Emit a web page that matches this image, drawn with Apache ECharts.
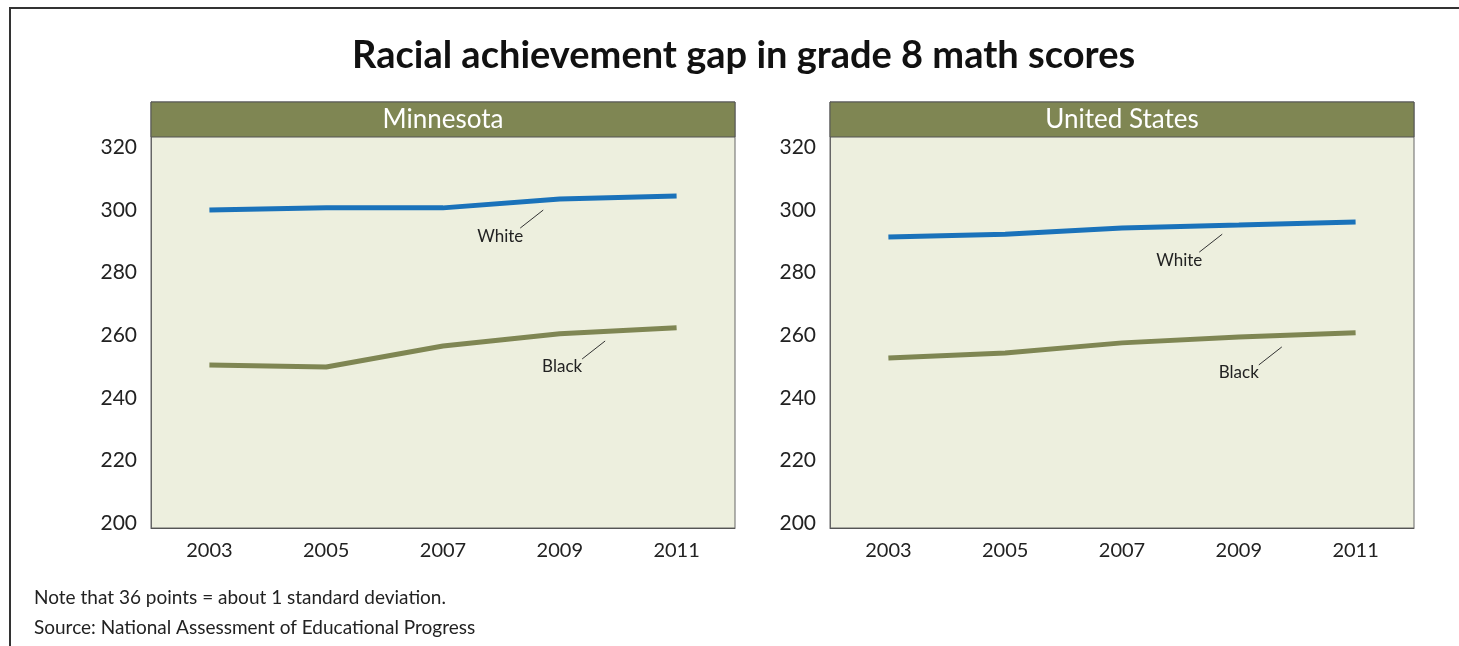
<!DOCTYPE html>
<html>
<head>
<meta charset="utf-8">
<script src="https://cdn.jsdelivr.net/npm/echarts@6/dist/echarts.min.js"></script>
<style>
  html, body { margin: 0; padding: 0; background: #fff; }
  #chart { width: 1459px; height: 646px; }
</style>
</head>
<body>
<div id="chart"></div>
<script>
// data
const years = ['2003', '2005', '2007', '2009', '2011'];
const mnWhite = [300, 300.7, 300.7, 303.5, 304.5];
const mnBlack = [250.5, 249.9, 256.6, 260.5, 262.4];
const usWhite = [291.4, 292.3, 294.3, 295.2, 296.2];
const usBlack = [252.8, 254.4, 257.6, 259.5, 260.8];
const panelNames = ['Minnesota', 'United States'];
// inline series labels: [text, grid index, x (category index), y (value)]
const seriesLabels = [
  ['White', 0, 2.49, 291.7],
  ['Black', 0, 3.02, 249.9],
  ['White', 1, 2.49, 284.0],
  ['Black', 1, 3.00, 248.0]
];

const OLIVE = '#7f8653';
const BLUE = '#1a72ba';
const BG = '#edefde';
const FONT = 'Lato, "Noto Sans", sans-serif';

const chart = echarts.init(document.getElementById('chart'));

const grids = [
  { left: 151, right: 724, top: 102, bottom: 118 },
  { left: 830, right: 45, top: 102, bottom: 118 }
].map(g => Object.assign(g, {
  show: true, backgroundColor: BG, borderColor: '#666', borderWidth: 1
}));

const xAxes = [0, 1].map(i => ({
  type: 'category', gridIndex: i, data: years,
  axisLine: { lineStyle: { color: '#555', width: 1 } },
  axisTick: { inside: true, length: 10, alignWithLabel: true, lineStyle: { color: '#777' } },
  axisLabel: { fontSize: 20, color: '#222', margin: 13, fontFamily: FONT }
}));

const yAxes = [0, 1].map(i => ({
  type: 'value', gridIndex: i, min: 198.5, max: 334.5, splitNumber: 7,
  splitLine: { show: false },
  axisLine: { show: true, lineStyle: { color: '#666' } },
  axisTick: { show: false },
  axisLabel: {
    fontSize: 21, color: '#222', margin: 14, fontFamily: FONT,
    formatter: v => (Math.abs(v % 20) < 1e-6 ? String(v) : '')
  }
}));

function line(data, color, i) {
  return {
    type: 'line', xAxisIndex: i, yAxisIndex: i, data: data,
    symbol: 'none', silent: true,
    lineStyle: { color: color, width: 5, cap: 'butt' }
  };
}

const headers = [];
grids.forEach((g, i) => {
  const x = g.left, w = 1459 - g.left - g.right;
  headers.push({
    type: 'rect', z: 10,
    shape: { x: x, y: g.top, width: w, height: 35 },
    style: { fill: OLIVE, stroke: '#555', lineWidth: 1 }
  });
  headers.push({
    type: 'text', z: 11, x: x + w / 2, y: g.top + 18,
    style: { text: panelNames[i], fill: '#fff', font: '26px ' + FONT, align: 'center', verticalAlign: 'middle' }
  });
});

const frame = {
  type: 'polyline', z: 1,
  shape: { points: [[10, 646], [10, 8], [1459, 8]] },
  style: { stroke: '#333', lineWidth: 2, fill: null }
};

const noteStyle = { fill: '#222', font: '19px ' + FONT };
const notes = [
  { type: 'text', left: 34, top: 588, style: Object.assign({ text: 'Note that 36 points = about 1 standard deviation.' }, noteStyle) },
  { type: 'text', left: 34, top: 618, style: Object.assign({ text: 'Source: National Assessment of Educational Progress' }, noteStyle) }
];

chart.setOption({
  animation: false,
  title: {
    text: 'Racial achievement gap in grade 8 math scores',
    left: 347, top: 32,
    textStyle: { fontSize: 38, fontWeight: 'bold', color: '#111', fontFamily: FONT }
  },
  grid: grids,
  xAxis: xAxes,
  yAxis: yAxes,
  series: [
    line(mnWhite, BLUE, 0), line(mnBlack, OLIVE, 0),
    line(usWhite, BLUE, 1), line(usBlack, OLIVE, 1)
  ],
  graphic: [frame].concat(headers, notes)
});

// category axis snaps to whole indices, so interpolate between neighbours
function toPixel(gi, xv, yv) {
  const i0 = Math.floor(xv), t = xv - i0;
  const a = chart.convertToPixel({ gridIndex: gi }, [i0, yv]);
  const b = chart.convertToPixel({ gridIndex: gi }, [i0 + 1, yv]);
  return [a[0] + (b[0] - a[0]) * t, a[1]];
}

// series labels and leader lines, placed through the axes
const extra = [];
seriesLabels.forEach(([text, gi, xv, yv]) => {
  const p = toPixel(gi, xv, yv);
  extra.push({
    type: 'text', z: 12, x: p[0], y: p[1],
    style: { text: text, fill: '#222', font: '17px ' + FONT, align: 'center', verticalAlign: 'middle' }
  });
  extra.push({
    type: 'line', z: 12,
    shape: { x1: p[0] + 20, y1: p[1] - 8, x2: p[0] + 43, y2: p[1] - 26 },
    style: { stroke: '#333', lineWidth: 1 }
  });
});
chart.setOption({ graphic: [frame].concat(headers, notes, extra) });
</script>
</body>
</html>
